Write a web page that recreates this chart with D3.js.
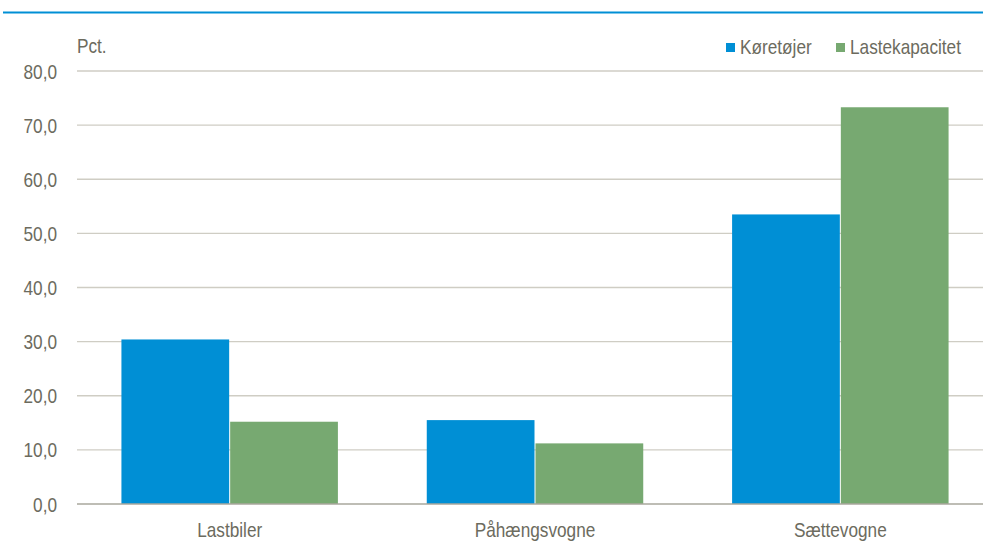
<!DOCTYPE html>
<html>
<head>
<meta charset="utf-8">
<script src="https://cdn.jsdelivr.net/npm/d3@7"></script>
<style>
  body { margin: 0; background: #fff; }
  text { font-family: "Liberation Sans", Arial, sans-serif; fill: #6c6b5e; font-size: 21px; }
</style>
</head>
<body>
<div id="chart"></div>
<script>
// DATA
const categories = ["Lastbiler", "Påhængsvogne", "Sættevogne"];
const seriesNames = ["Køretøjer", "Lastekapacitet"];
const koretojer = [30.4, 15.5, 53.5];
const lastekapacitet = [15.2, 11.2, 73.3];
const yTicks = [0, 10, 20, 30, 40, 50, 60, 70, 80];

const colours = d3.scaleOrdinal()
    .domain(seriesNames)
    .range(["#008fd5", "#77a971"]);

const width = 983, height = 543;
const plot = {left: 77, right: 993, top: 71, bottom: 504};
const squeeze = 0.82; // narrow-font look

const rows = categories.map((c, i) => ({
    category: c,
    values: [
        {key: seriesNames[0], value: koretojer[i]},
        {key: seriesNames[1], value: lastekapacitet[i]}
    ]
}));

let svg = d3.select("#chart")
    .append("svg")
        .attr("width", width)
        .attr("height", height);

// text placed at (x, y) and squeezed horizontally
function narrowText(sel, xf, yf) {
    return sel.attr("transform", (d, i) => `translate(${xf(d, i)},${yf(d, i)}) scale(${squeeze},1)`);
}

// top rule (title is cropped off)
svg.append("line")
    .attr("x1", 3).attr("x2", width)
    .attr("y1", 12.5).attr("y2", 12.5)
    .attr("stroke", "#008fd5")
    .attr("stroke-width", 2);

let x0 = d3.scaleBand()
    .domain(categories)
    .range([plot.left, plot.right]);

let x1 = d3.scaleBand()
    .domain(seriesNames)
    .range([0, x0.bandwidth()])
    .paddingOuter(0.404);

let y = d3.scaleLinear()
    .domain([0, 80])
    .range([plot.bottom, plot.top]);

// gridlines
svg.append("g")
    .selectAll("line")
    .data(yTicks.filter(d => d > 0))
    .enter()
    .append("line")
        .attr("x1", plot.left).attr("x2", width)
        .attr("y1", d => y(d)).attr("y2", d => y(d))
        .attr("stroke", "#cfcdc4")
        .attr("stroke-width", 1.3);

// y labels
svg.append("g")
    .selectAll("text")
    .data(yTicks)
    .enter()
    .append("text")
        .call(narrowText, () => 57, d => y(d) + 7.5)
        .attr("text-anchor", "end")
        .text(d => d3.format(".1f")(d).replace(".", ","));

svg.append("text")
    .datum("Pct.")
    .call(narrowText, () => 77, () => 53)
    .text(d => d);

// bars
let groups = svg.selectAll(".group")
    .data(rows)
    .enter()
    .append("g")
        .attr("transform", d => `translate(${x0(d.category)},0)`);

groups.selectAll("rect")
    .data(d => d.values)
    .enter()
    .append("rect")
        .attr("x", d => x1(d.key) + 0.5)
        .attr("y", d => y(d.value))
        .attr("width", x1.bandwidth() - 1)
        .attr("height", d => plot.bottom - y(d.value))
        .attr("fill", d => colours(d.key));

// baseline
svg.append("line")
    .attr("x1", plot.left).attr("x2", width)
    .attr("y1", plot.bottom).attr("y2", plot.bottom)
    .attr("stroke", "#a9a79c")
    .attr("stroke-width", 1.3);

// x labels
svg.append("g")
    .selectAll("text")
    .data(categories)
    .enter()
    .append("text")
        .call(narrowText, d => x0(d) + x0.bandwidth() / 2, () => 537)
        .attr("text-anchor", "middle")
        .text(d => d);

// legend
const legendX = [726, 836];
let legend = svg.append("g");
seriesNames.forEach((s, i) => {
    legend.append("rect")
        .attr("x", legendX[i]).attr("y", 43)
        .attr("width", 9).attr("height", 9)
        .attr("fill", colours(s));
    legend.append("text")
        .datum(s)
        .call(narrowText, () => legendX[i] + 14, () => 54)
        .text(s);
});
</script>
</body>
</html>
